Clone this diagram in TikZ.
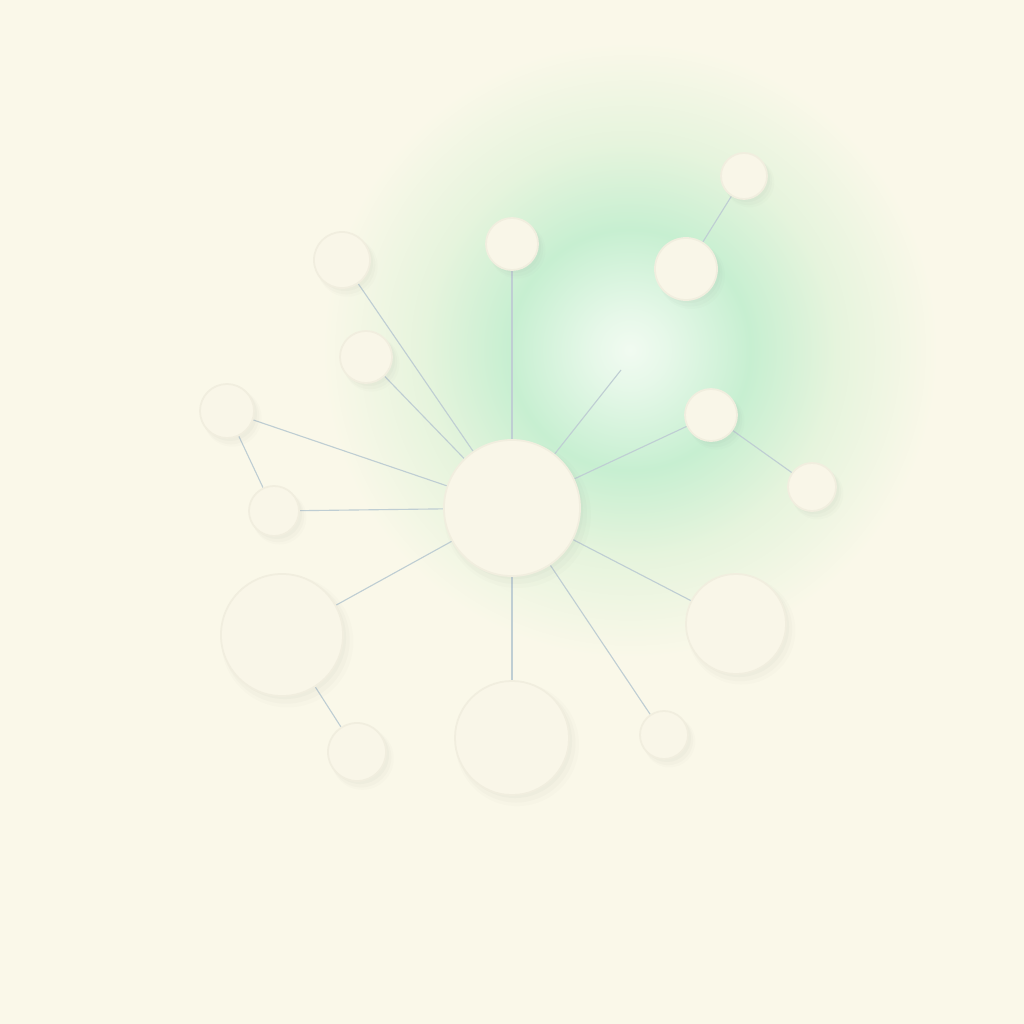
\documentclass[tikz,border=0pt]{standalone}
\usetikzlibrary{shadows}

\definecolor{paper}{HTML}{FAF8E9}
\definecolor{discfill}{HTML}{F9F6E8}
\definecolor{rim}{HTML}{F1EEDF}
\definecolor{wire}{HTML}{BFCED3}
\definecolor{glowcore}{HTML}{F1FBF1}
\definecolor{glowmid}{HTML}{C7EFD1}
\definecolor{glowrim}{HTML}{E6F4DD}

\pgfdeclareradialshading{glow}{\pgfpoint{0bp}{0bp}}{color(0bp)=(glowcore); color(1.3bp)=(glowcore!75!glowmid); color(4.3bp)=(glowmid); color(7.4bp)=(glowrim); color(11bp)=(paper); color(50bp)=(paper)}

\pgfdeclarelayer{back}
\pgfdeclarelayer{links}
\pgfsetlayers{back,links,main}

\begin{document}
\begin{tikzpicture}[x=0.01cm,y=-0.01cm,
  disc/.style={circle,minimum size=#1,inner sep=0pt,fill=discfill,draw=rim,line width=0.5pt,
    drop shadow={shadow xshift=0.05cm,shadow yshift=-0.06cm,shadow scale=1.08,opacity=0.025},
    drop shadow={shadow xshift=0.04cm,shadow yshift=-0.05cm,shadow scale=1.04,opacity=0.03},
    drop shadow={shadow xshift=0.03cm,shadow yshift=-0.03cm,shadow scale=1.0,opacity=0.035}},
  link/.style={draw=wire,line width=0.32pt}]
\useasboundingbox (0,0) rectangle (1024,1024);
\begin{pgfonlayer}{back}
\fill[paper] (0,0) rectangle (1024,1024);
\fill[shading=glow] (-70,-350) rectangle (1330,1050);
\end{pgfonlayer}

% hub and its spokes
\node[disc=1.36cm] (hub) at (512,508) {};
\node[disc=0.52cm] (top) at (512,244) {};
\node[disc=0.62cm] (ne) at (686,269) {};
\node[disc=0.46cm] (ne2) at (744,176) {};
\node[disc=0.52cm] (e) at (711,415) {};
\node[disc=0.48cm] (e2) at (812,487) {};
\node[disc=1.0cm] (se) at (736,624) {};
\node[disc=0.48cm] (sse) at (664,735) {};
\node[disc=1.14cm] (s) at (512,738) {};
\node[disc=1.22cm] (sw) at (282,635) {};
\node[disc=0.58cm] (sw2) at (357,752) {};
\node[disc=0.50cm] (w) at (274,511) {};
\node[disc=0.54cm] (wnw) at (227,411) {};
\node[disc=0.56cm] (nw) at (342,260) {};
\node[disc=0.52cm] (nw2) at (366,357) {};
\coordinate (tip) at (621,370);

\begin{pgfonlayer}{links}
\draw[link] (hub) -- (top);
\draw[link] (hub) -- (tip);
\draw[link] (hub) -- (e);
\draw[link] (e) -- (e2);
\draw[link] (ne) -- (ne2);
\draw[link] (hub) -- (se);
\draw[link] (hub) -- (sse);
\draw[link] (hub) -- (s);
\draw[link] (hub) -- (sw);
\draw[link] (sw) -- (sw2);
\draw[link] (hub) -- (w);
\draw[link] (hub) -- (wnw);
\draw[link] (wnw) -- (w);
\draw[link] (hub) -- (nw);
\draw[link] (hub) -- (nw2);
\end{pgfonlayer}
\end{tikzpicture}
\end{document}
